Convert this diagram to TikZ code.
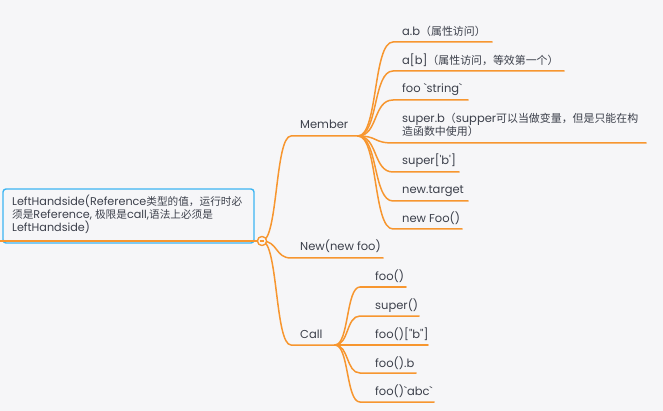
\documentclass[tikz,border=0pt]{standalone}
\usepackage{fontspec}
\newfontfamily\popf{Poppins}
\newfontfamily\cjkf{Noto Sans CJK SC}[Scale=0.95]
\newcommand\zhs[1]{{\cjkf #1}}
\definecolor{bg}{HTML}{F6F6F8}
\definecolor{org}{HTML}{F7962F}
\definecolor{blu}{HTML}{3DB5F2}
\definecolor{txt}{HTML}{3C404B}
\begin{document}
\begin{tikzpicture}[x=1pt,y=-1pt,
  lbl/.style={anchor=base west, inner sep=0pt, text=txt, font=\popf\fontsize{11.5}{13.3}\selectfont},
  br/.style={draw=org, line width=1.5pt, line cap=round},
  rootbox/.style={draw=blu, line width=1.4pt, rounded corners=3pt}]
\fill[bg] (0,0) rectangle (663,411);
\useasboundingbox (0,0) rectangle (663,411);
% root
\draw[rootbox] (3,189) rectangle (254,243);
\node[lbl, align=left, font=\popf\fontsize{11.2}{13.3}\selectfont] (root) at (12,232) {LeftHandside(Reference\zhs{类型的值，运行时必}\\\zhs{须是}Reference, \zhs{极限是}call,\zhs{语法上必须是}\\LeftHandside)};
\coordinate (r0) at (0,241);
\node[circle, draw=org, fill=bg, line width=1.2pt, minimum size=9pt, inner sep=0pt] (jr) at (262,241) {};
% first level
\node[lbl] (member) at (300,129) {Member};
\node[lbl] (new) at (300,251) {New(new foo)};
\node[lbl] (call) at (300,338) {Call};
\coordinate (ms) at (291,136); \coordinate (mj) at (358,136);
\coordinate (ns) at (291,258); \coordinate (ne) at (383,258);
\coordinate (cs) at (291,345); \coordinate (cj) at (335,345);
% member children
\node[lbl] (m1) at (402,36) {a.b\zhs{（属性访问）}};
\node[lbl] (m2) at (402,65) {a[b]\zhs{（属性访问，等效第一个）}};
\node[lbl] (m3) at (402,93) {foo `string`};
\node[lbl, align=left] (m4) at (402,136) {super.b\zhs{（}supper\zhs{可以当做变量，但是只能在构}\\\zhs{造函数中使用）}};
\node[lbl] (m5) at (402,165) {super['b']};
\node[lbl] (m6) at (402,194) {new.target};
\node[lbl] (m7) at (402,223) {new Foo()};
\coordinate (m1s) at (393,42);  \coordinate (m1e) at (492,42);
\coordinate (m2s) at (393,71);  \coordinate (m2e) at (564,71);
\coordinate (m3s) at (393,100); \coordinate (m3e) at (468,100);
\coordinate (m4s) at (393,143); \coordinate (m4e) at (646,143);
\coordinate (m5s) at (393,172); \coordinate (m5e) at (459,172);
\coordinate (m6s) at (393,201); \coordinate (m6e) at (468,201);
\coordinate (m7s) at (393,229); \coordinate (m7e) at (462,229);
% call children
\node[lbl] (c1) at (375,280) {foo()};
\node[lbl] (c2) at (375,309) {super()};
\node[lbl] (c3) at (375,338) {foo()["b"]};
\node[lbl] (c4) at (375,367) {foo().b};
\node[lbl] (c5) at (375,395) {foo()`abc`};
\coordinate (c1s) at (360,287); \coordinate (c1e) at (406,287);
\coordinate (c2s) at (360,316); \coordinate (c2e) at (419,316);
\coordinate (c3s) at (360,345); \coordinate (c3e) at (428,345);
\coordinate (c4s) at (360,373); \coordinate (c4e) at (416,373);
\coordinate (c5s) at (360,402); \coordinate (c5e) at (434,402);
% connectors
\draw[br] (r0) -- (jr.center);
\draw[br] (jr.center) .. controls +(16,0) and +(-16,0) .. (ms) -- (mj);
\draw[br] (jr.center) .. controls +(16,0) and +(-16,0) .. (ns) -- (ne);
\draw[br] (jr.center) .. controls +(16,0) and +(-16,0) .. (cs) -- (cj);
\foreach \i in {1,...,7}{
  \draw[br] (mj) .. controls +(20,0) and +(-20,0) .. (m\i s) -- (m\i e);
}
\foreach \i in {1,...,5}{
  \draw[br] (cj) .. controls +(14,0) and +(-14,0) .. (c\i s) -- (c\i e);
}
\node[circle, draw=org, fill=bg, line width=1.2pt, minimum size=9pt, inner sep=0pt] at (jr) {};
\draw[org, line width=1.1pt] ([xshift=-2.3pt]jr.center) -- ([xshift=2.3pt]jr.center);
\end{tikzpicture}
\end{document}
